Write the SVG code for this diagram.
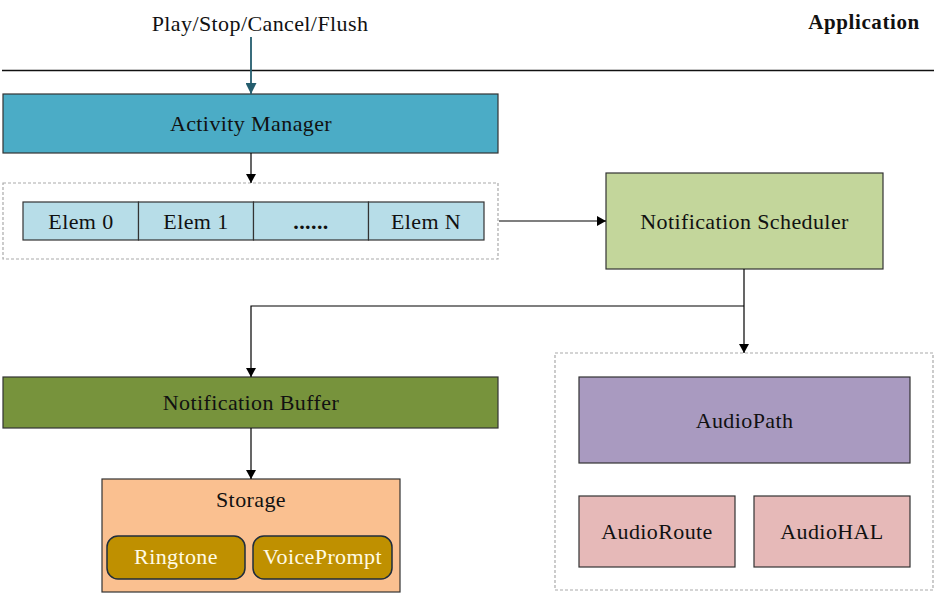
<svg xmlns="http://www.w3.org/2000/svg" width="937" height="595" viewBox="0 0 937 595">
<style>
text{font-family:"Liberation Serif","Times New Roman",serif;font-size:22px;fill:#111;text-anchor:middle;letter-spacing:0.4px}
.box{stroke:#333;stroke-width:1.2}
.dash{fill:none;stroke:#aaa;stroke-width:1.2;stroke-dasharray:3,2}
.conn{fill:none;stroke:#000;stroke-width:1.2}
</style>
<defs>
<marker id="ah" markerWidth="9" markerHeight="10" refX="9" refY="5" orient="auto" markerUnits="userSpaceOnUse"><path d="M0,0L9,5L0,10z" fill="#000"/></marker>
<marker id="ah2" markerWidth="11" markerHeight="11" refX="11" refY="5.5" orient="auto" markerUnits="userSpaceOnUse"><path d="M0,0L11,5.5L0,11z" fill="#245d6e"/></marker>
</defs>
<rect width="937" height="595" fill="#fff"/>
<text x="260" y="31">Play/Stop/Cancel/Flush</text>
<text x="864" y="29" style="font-weight:bold;font-size:21px;letter-spacing:0.6px">Application</text>
<line x1="2" y1="70.5" x2="934" y2="70.5" stroke="#111" stroke-width="1.6"/>
<g id="activity-manager"><rect class="box" x="3" y="94" width="495" height="59" fill="#4bacc6" stroke="#2c5f6e"/><text x="251" y="131">Activity Manager</text></g>
<g id="queue">
<rect class="dash" x="3" y="183" width="495" height="76"/>
<g id="elem0"><rect class="box" x="23" y="202" width="115.5" height="38" fill="#b7dde8" stroke="#1f3444"/><text x="81" y="229">Elem 0</text></g>
<g id="elem1"><rect class="box" x="138.5" y="202" width="115" height="38" fill="#b7dde8" stroke="#1f3444"/><text x="196" y="229">Elem 1</text></g>
<g id="elemdots"><rect class="box" x="253.5" y="202" width="115" height="38" fill="#b7dde8" stroke="#1f3444"/><text x="311" y="229" style="font-weight:bold">......</text></g>
<g id="elemN"><rect class="box" x="368.5" y="202" width="115.5" height="38" fill="#b7dde8" stroke="#1f3444"/><text x="426" y="229">Elem N</text></g>
</g>
<g id="notification-scheduler"><rect class="box" x="606" y="173" width="277" height="96" fill="#c3d69b"/><text x="744.5" y="229">Notification Scheduler</text></g>
<g id="notification-buffer"><rect class="box" x="3" y="377" width="495" height="51" fill="#77933c"/><text x="251" y="410">Notification Buffer</text></g>
<g id="storage"><rect class="box" x="102" y="479" width="298" height="113" fill="#fac090" stroke="#222"/><text x="251" y="507">Storage</text>
<g id="ringtone"><rect x="107" y="536" width="138" height="43" rx="11" fill="#bf9000" stroke="#1f2d3d" stroke-width="1.5"/><text x="176" y="564" style="fill:#fffbe6">Ringtone</text></g>
<g id="voiceprompt"><rect x="253" y="536" width="139" height="43" rx="11" fill="#bf9000" stroke="#1f2d3d" stroke-width="1.5"/><text x="322.5" y="564" style="fill:#fffbe6">VoicePrompt</text></g>
</g>
<g id="audio">
<rect class="dash" x="555" y="353" width="378" height="237"/>
<g id="audiopath"><rect class="box" x="579" y="377" width="331" height="86" fill="#a99ac0"/><text x="744.5" y="428">AudioPath</text></g>
<g id="audioroute"><rect class="box" x="579" y="496" width="156" height="71" fill="#e6b9b8"/><text x="657" y="539">AudioRoute</text></g>
<g id="audiohal"><rect class="box" x="754" y="496" width="156" height="71" fill="#e6b9b8"/><text x="832" y="539">AudioHAL</text></g>
</g>
<g id="connectors">
<line x1="251" y1="37" x2="251" y2="94" stroke="#245d6e" stroke-width="1.8" marker-end="url(#ah2)"/>
<line class="conn" x1="251" y1="153" x2="251" y2="183" marker-end="url(#ah)"/>
<line class="conn" x1="499" y1="221" x2="606" y2="221" marker-end="url(#ah)"/>
<line class="conn" x1="744" y1="269" x2="744" y2="353" marker-end="url(#ah)"/>
<polyline class="conn" points="744,306 251,306 251,377" marker-end="url(#ah)"/>
<line class="conn" x1="251" y1="428" x2="251" y2="479" marker-end="url(#ah)"/>
</g>
</svg>
